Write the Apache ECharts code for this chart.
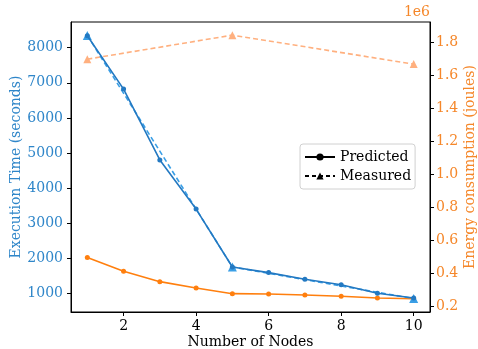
<!DOCTYPE html>
<html><head><meta charset="utf-8">
<script src="https://cdn.jsdelivr.net/npm/echarts@6/dist/echarts.min.js"></script>
<style>html,body{margin:0;padding:0;background:#fff}#c{width:478px;height:349px}</style>
</head><body><div id="c"></div>
<script>
const nodesPredicted = [1,2,3,4,5,6,7,8,9,10];
const timePredicted = [8340,6820,4800,3400,1750,1590,1400,1245,1000,865];
const nodesMeasured = [1,5,10];
const timeMeasured = [8350,1750,850];
const energyPredicted = [0.495,0.411,0.348,0.309,0.275,0.273,0.267,0.259,0.249,0.244]; // x1e6
const energyMeasured = [1.70,1.846,1.67]; // x1e6
const xTicks = [2,4,6,8,10];
const timeTicks = [1000,2000,3000,4000,5000,6000,7000,8000];
const energyTicks = [0.2,0.4,0.6,0.8,1.0,1.2,1.4,1.6,1.8];

const FONT = 'DejaVu Serif';
const FS = 14;
const BLUE_LBL = '#2f86c9', ORANGE_LBL = '#f5872a';
const zip = (xs, ys) => xs.map((x,i)=>[x, ys[i]]);

const chart = echarts.init(document.getElementById('c'), null, {renderer:'canvas'});
chart.setOption({
  animation:false,
  textStyle:{fontFamily:FONT},
  grid:{left:71,right:48,top:22,bottom:37,containLabel:false,outerBoundsMode:'none',
    show:true,borderColor:'#000',borderWidth:1,backgroundColor:'transparent'},
  legend:{
    data:['Predicted','Measured'],
    orient:'vertical', left:300, top:144,
    padding:[6,4,6,4], itemGap:5, itemWidth:30, itemHeight:9,
    borderColor:'#d0d0d0', borderWidth:1, borderRadius:3, backgroundColor:'#fff',
    textStyle:{fontFamily:FONT,fontSize:FS,color:'#000'}
  },
  xAxis:{
    type:'value', min:0.55, max:10.45, splitNumber:5,
    name:'Number of Nodes', nameLocation:'middle', nameGap:23, nameMoveOverlap:false,
    nameTextStyle:{fontFamily:FONT,fontSize:FS,color:'#000'},
    axisLine:{show:true,lineStyle:{color:'#000'}},
    axisTick:{show:true,inside:false,length:4,lineStyle:{color:'#000'},customValues: xTicks},
    axisLabel:{fontFamily:FONT,fontSize:FS,color:'#000',margin:7,customValues: xTicks,
      formatter:v=> xTicks.includes(v)? String(v):''},
    splitLine:{show:false}
  },
  yAxis:[{
    type:'value', min:467, max:8732, splitNumber:8, position:'left',
    name:'Execution Time (seconds)', nameLocation:'middle', nameGap:48, nameMoveOverlap:false,
    nameTextStyle:{fontFamily:FONT,fontSize:FS,color:BLUE_LBL},
    axisLine:{show:true,lineStyle:{color:'#000'}},
    axisTick:{show:true,length:4,lineStyle:{color:'#000'},customValues:timeTicks},
    axisLabel:{fontFamily:FONT,fontSize:FS,color:BLUE_LBL,margin:8,customValues:timeTicks,
      formatter:v=> (Math.abs(v%1000)<1e-6)? String(v):''},
    splitLine:{show:false}
  },{
    type:'value', min:0.1636, max:1.926, splitNumber:9, position:'right',
    name:'Energy consumption (joules)', nameLocation:'middle', nameGap:33, nameMoveOverlap:false,
    nameRotate:90,
    nameTextStyle:{fontFamily:FONT,fontSize:FS,color:ORANGE_LBL},
    axisLine:{show:true,lineStyle:{color:'#000'}},
    axisTick:{show:true,length:4,lineStyle:{color:'#000'},customValues:energyTicks},
    axisLabel:{fontFamily:FONT,fontSize:FS,color:ORANGE_LBL,margin:6,customValues:energyTicks,
      formatter:v=> v.toFixed(1)},
    splitLine:{show:false}
  }],
  graphic:[{type:'text',right:48,top:5,style:{text:'1e6',fill:ORANGE_LBL,font:FS+'px "DejaVu Serif"'}}],
  series:[
    {name:'EnergyMeasured',type:'line',yAxisIndex:1,data:zip(nodesMeasured,energyMeasured),
      lineStyle:{color:'#ffb07f',width:1.6,type:[5,3]},itemStyle:{color:'#ffb07f'},
      symbol:'triangle',symbolSize:8,z:2},
    {name:'EnergyPredicted',type:'line',yAxisIndex:1,data:zip(nodesPredicted,energyPredicted),
      lineStyle:{color:'#ff7f0e',width:1.6},itemStyle:{color:'#ff7f0e'},
      symbol:'circle',symbolSize:5,z:3},
    {name:'TimeMeasured',type:'line',yAxisIndex:0,data:zip(nodesMeasured,timeMeasured),
      lineStyle:{color:'#3a9fe6',width:1.6,type:[5,3]},itemStyle:{color:'#3a9fe6'},
      symbol:'triangle',symbolSize:9,z:4},
    {name:'TimePredicted',type:'line',yAxisIndex:0,data:zip(nodesPredicted,timePredicted),
      lineStyle:{color:'#2379c2',width:1.6},itemStyle:{color:'#2379c2'},
      symbol:'circle',symbolSize:5,z:5},
    {name:'Predicted',type:'line',data:[],lineStyle:{color:'#000',width:1.6},itemStyle:{color:'#000'},symbol:'circle',symbolSize:4},
    {name:'Measured',type:'line',data:[],lineStyle:{color:'#000',width:1.6,type:[4,3]},itemStyle:{color:'#000'},symbol:'triangle',symbolSize:7}
  ]
});
</script></body></html>
